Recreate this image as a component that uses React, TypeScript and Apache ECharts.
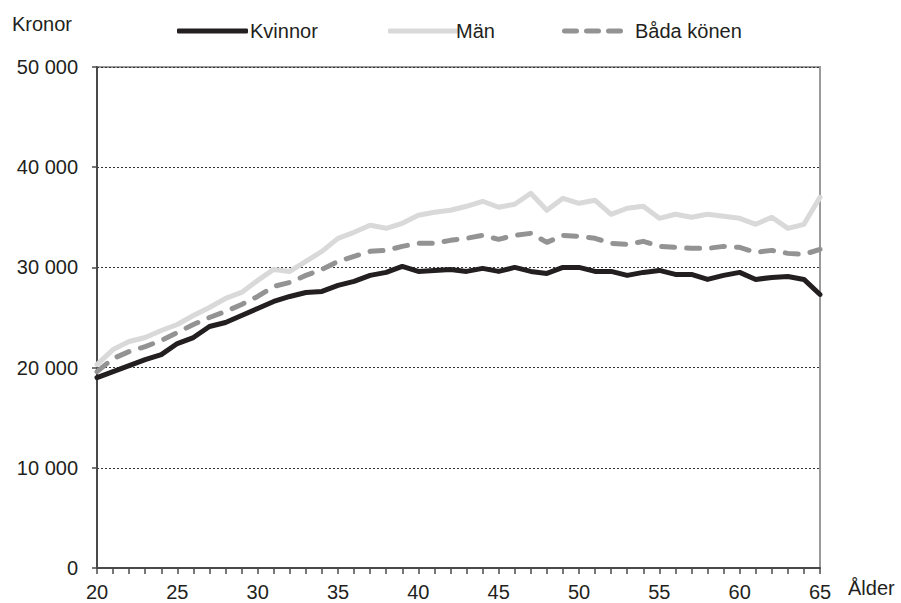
import React, { useEffect, useRef } from "react";
import * as echarts from "echarts";

const ages = [20,21,22,23,24,25,26,27,28,29,30,31,32,33,34,35,36,37,38,39,40,41,42,43,44,45,46,47,48,49,50,51,52,53,54,55,56,57,58,59,60,61,62,63,64,65];

const kvinnor = [19000,19600,20200,20800,21300,22400,23000,24100,24500,25200,25900,26600,27100,27500,27600,28200,28600,29200,29500,30100,29600,29700,29800,29600,29900,29600,30000,29600,29400,30000,30000,29600,29600,29200,29500,29700,29300,29300,28800,29200,29500,28800,29000,29100,28800,27300];

const man = [20300,21800,22600,23000,23700,24300,25200,26000,26900,27500,28700,29800,29600,30600,31600,32900,33500,34200,33900,34400,35200,35500,35700,36100,36600,36000,36300,37400,35700,36900,36400,36700,35300,35900,36100,34900,35300,35000,35300,35100,34900,34300,35000,33900,34300,37000];

const bada = [19600,20900,21600,22100,22700,23500,24300,25000,25600,26300,27100,28100,28500,29200,29800,30600,31100,31600,31700,32100,32400,32400,32700,32900,33200,32800,33200,33400,32500,33200,33100,32900,32400,32300,32600,32100,32000,31900,31900,32100,32000,31500,31700,31400,31300,31800];

const seriesNames = ["Kvinnor", "Män", "Båda könen"];
const yTicks = [0, 10000, 20000, 30000, 40000, 50000];

const FONT = "Liberation Sans, Arial, sans-serif";
const TXT = "#231f20";

const fmt = (v: number) => String(v).replace(/\B(?=(\d{3})+(?!\d))/g, " ");

const DASH_ICON =
  "path://M2.5,0h12a2.5,2.5,0,0,1,0,5h-12a2.5,2.5,0,0,1,0,-5z" +
  "M24.5,0h12a2.5,2.5,0,0,1,0,5h-12a2.5,2.5,0,0,1,0,-5z" +
  "M46.5,0h12a2.5,2.5,0,0,1,0,5h-12a2.5,2.5,0,0,1,0,-5z";

export default function App() {
  const ref = useRef<HTMLDivElement>(null);
  useEffect(() => {
    if (!ref.current) return;
    const chart = echarts.init(ref.current, null, { renderer: "svg" });
    const legendText = { fontFamily: FONT, fontSize: 20, color: TXT };
    chart.setOption({
      animation: false,
      backgroundColor: "#ffffff",
      textStyle: { fontFamily: FONT },
      grid: {
        left: 97, right: 81, top: 67, bottom: 35,
        show: true, borderColor: "#9a9a9a", borderWidth: 2, backgroundColor: "transparent",
      },
      legend: [
        { data: [{ name: seriesNames[0], icon: "roundRect" }], left: 172, top: 16, itemWidth: 71, itemHeight: 5, itemGap: 0, textStyle: { ...legendText, padding: [0, 0, 0, -3] } },
        { data: [{ name: seriesNames[1], icon: "roundRect" }], left: 383, top: 16, itemWidth: 72, itemHeight: 5, itemGap: 0, textStyle: { ...legendText, padding: [0, 0, 0, -9] } },
        { data: [{ name: seriesNames[2], icon: DASH_ICON }], left: 557, top: 16, itemWidth: 61, itemHeight: 5, itemGap: 0, textStyle: { ...legendText, padding: [0, 0, 0, 7] } },
      ],
      xAxis: {
        type: "category",
        data: ages,
        boundaryGap: false,
        axisLine: { show: true, lineStyle: { color: "#4a4a4a", width: 2 } },
        axisTick: { show: true, interval: 0, length: 6, lineStyle: { color: "#4a4a4a", width: 1.5 } },
        axisLabel: {
          interval: 4, margin: 14, fontSize: 20, color: TXT, fontFamily: FONT,
        },
        splitLine: { show: false },
      },
      yAxis: {
        type: "value",
        min: 0, max: 50000, interval: 10000,
        axisLine: { show: true, lineStyle: { color: "#4a4a4a", width: 2 } },
        axisTick: { show: true, length: 5, lineStyle: { color: "#4a4a4a", width: 1.5 } },
        axisLabel: {
          margin: 19, fontSize: 20, color: TXT, fontFamily: FONT,
          formatter: (v: number) => (yTicks.includes(v) ? fmt(v) : ""),
        },
        splitLine: { show: true, lineStyle: { color: "#333333", width: 1, type: [2, 2] } },
      },
      graphic: [
        { type: "text", left: 12, top: 14, style: { text: "Kronor", fontFamily: FONT, fontSize: 20, fill: TXT } },
        { type: "text", left: 848, top: 578, style: { text: "Ålder", fontFamily: FONT, fontSize: 20, fill: TXT } },
      ],
      series: [
        {
          name: seriesNames[0], type: "line", data: kvinnor, symbol: "none", z: 5,
          lineStyle: { color: "#231f20", width: 5, join: "round", cap: "round" },
          itemStyle: { color: "#231f20" },
        },
        {
          name: seriesNames[1], type: "line", data: man, symbol: "none", z: 3,
          lineStyle: { color: "#d9d9d9", width: 5, join: "round", cap: "round" },
          itemStyle: { color: "#d9d9d9" },
        },
        {
          name: seriesNames[2], type: "line", data: bada, symbol: "none", z: 4,
          lineStyle: { color: "#939393", width: 5, type: [13, 12], join: "round", cap: "round" },
          itemStyle: { color: "#939393" },
        },
      ],
    });
    return () => chart.dispose();
  }, []);
  return <div ref={ref} style={{ position: "fixed", left: 0, top: 0, width: 901, height: 603 }} />;
}
